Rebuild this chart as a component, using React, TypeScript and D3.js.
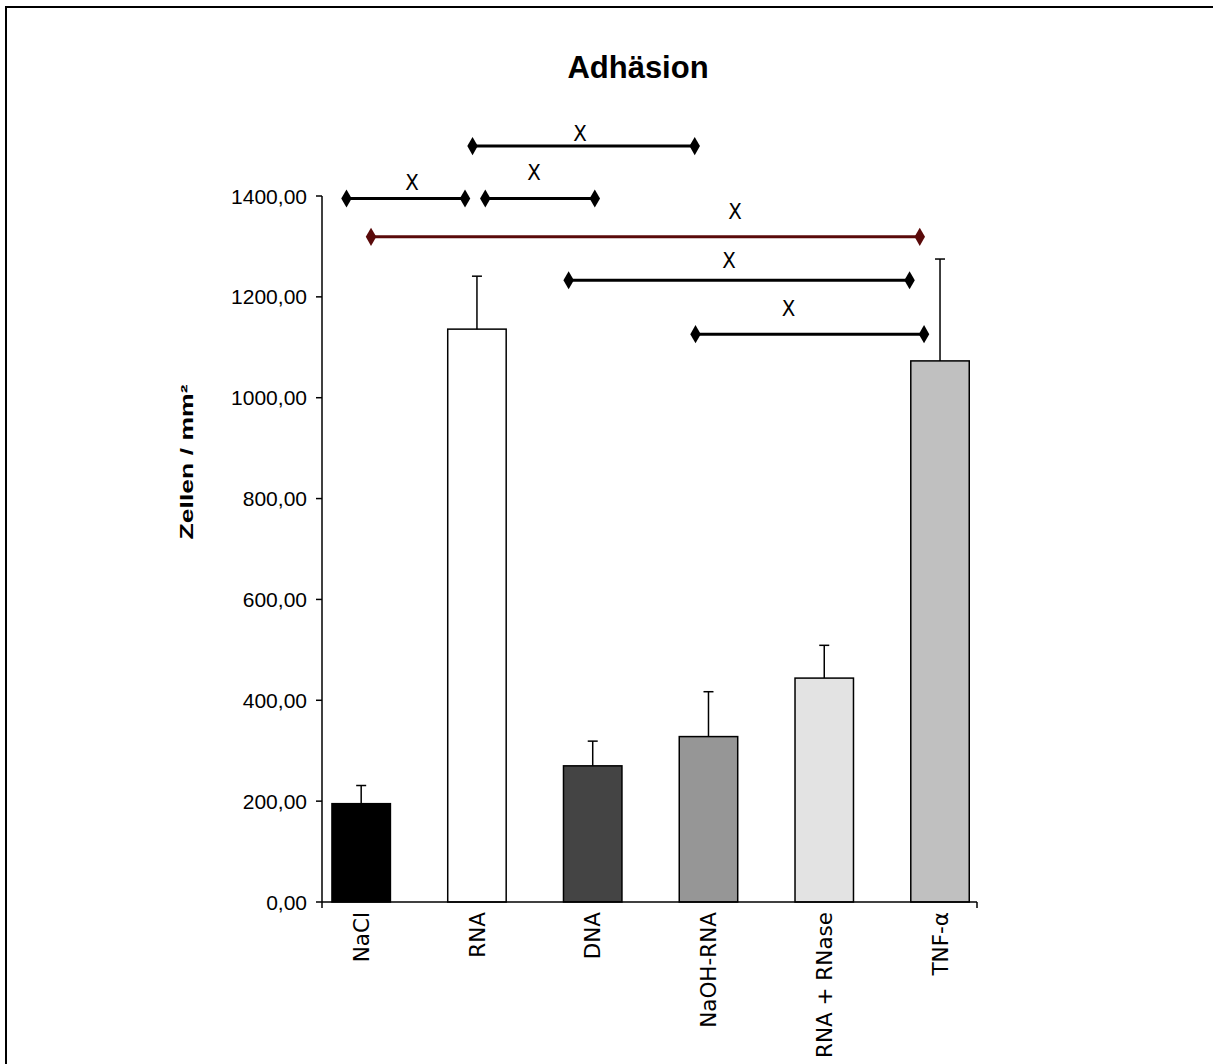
import * as d3 from "d3";
import { useEffect, useRef } from "react";

const categories = ["NaCl", "RNA", "DNA", "NaOH-RNA", "RNA + RNase", "TNF-α"];
const means = [195, 1136, 270, 328, 444, 1073];
const errors = [36, 105, 49, 89, 65, 202];
const barColors = ["#000000", "#ffffff", "#444444", "#969696", "#e3e3e3", "#c0c0c0"];
const yTicks = [0, 200, 400, 600, 800, 1000, 1200, 1400];

// significance lines: ends on category index scale, value for y, label pos
const bracketFrom = [0.962, -0.127, 1.072, 0.085, 1.792, 2.888];
const bracketTo = [2.881, 0.897, 2.018, 4.825, 4.737, 4.862];
const bracketValue = [1499, 1395, 1395, 1319, 1233, 1126];
const labelIndex = [1.89, 0.439, 1.493, 3.229, 3.177, 3.692];
const labelValue = [1524, 1428, 1448, 1371, 1273, 1178];
const bracketColors = ["#000", "#000", "#000", "#5a0a0a", "#000", "#000"];

const App = () => {
  const svgRef = useRef<SVGSVGElement>(null);

  useEffect(() => {
    const svg = d3.select(svgRef.current);
    svg.selectAll("*").remove();

    const axisLeft = 322;
    const axisRight = 977;

    const x = d3
      .scaleBand()
      .domain(categories)
      .range([303.3, 997.9])
      .paddingInner(0.495)
      .paddingOuter(0.2475);
    const bw = x.bandwidth();
    const cx = (c: string) => (x(c) as number) + bw / 2;

    const xi = d3
      .scaleLinear()
      .domain([0, categories.length - 1])
      .range([cx(categories[0]), cx(categories[categories.length - 1])]);

    const y = d3.scaleLinear().domain([0, 1400]).range([902, 196]);

    const fmt = d3
      .formatLocale({ decimal: ",", thousands: "", grouping: [3], currency: ["", ""] })
      .format(".2f");

    // outer frame
    svg
      .append("rect")
      .attr("x", 6)
      .attr("y", 7)
      .attr("width", 1240)
      .attr("height", 1100)
      .attr("fill", "none")
      .attr("stroke", "#000")
      .attr("stroke-width", 2);

    svg
      .append("text")
      .attr("x", 638)
      .attr("y", 78)
      .attr("text-anchor", "middle")
      .attr("font-family", "'Liberation Sans', Arial, sans-serif")
      .attr("font-weight", "bold")
      .attr("font-size", 31)
      .text("Adhäsion");

    // y axis
    svg
      .append("line")
      .attr("x1", axisLeft)
      .attr("x2", axisLeft)
      .attr("y1", y(1400))
      .attr("y2", y(0))
      .attr("stroke", "#000")
      .attr("stroke-width", 1.5);

    const yt = svg.append("g").selectAll("g").data(yTicks).enter().append("g");
    yt.append("line")
      .attr("x1", axisLeft - 6)
      .attr("x2", axisLeft)
      .attr("y1", (d) => y(d))
      .attr("y2", (d) => y(d))
      .attr("stroke", "#000")
      .attr("stroke-width", 1.5);
    yt.append("text")
      .attr("x", axisLeft - 15)
      .attr("y", (d) => y(d))
      .attr("dy", "0.36em")
      .attr("text-anchor", "end")
      .attr("font-family", "'Liberation Sans', Arial, sans-serif")
      .attr("font-size", 21)
      .text((d) => fmt(d));

    svg
      .append("text")
      .attr("transform", "translate(193,462) rotate(-90)")
      .attr("text-anchor", "middle")
      .attr("font-family", "'Liberation Sans', Arial, sans-serif")
      .attr("font-weight", "bold")
      .attr("font-size", 18)
      .attr("textLength", 155)
      .attr("lengthAdjust", "spacingAndGlyphs")
      .text("Zellen / mm²");

    // bars
    svg
      .selectAll(".bar")
      .data(categories)
      .enter()
      .append("rect")
      .attr("class", "bar")
      .attr("x", (d) => x(d) as number)
      .attr("width", bw)
      .attr("y", (d, i) => y(means[i]))
      .attr("height", (d, i) => y(0) - y(means[i]))
      .attr("fill", (d, i) => barColors[i])
      .attr("stroke", "#000")
      .attr("stroke-width", 1.5);

    // error bars
    const eb = svg.append("g").selectAll("g").data(categories).enter().append("g");
    eb.append("line")
      .attr("x1", (d) => cx(d))
      .attr("x2", (d) => cx(d))
      .attr("y1", (d, i) => y(means[i]))
      .attr("y2", (d, i) => y(means[i] + errors[i]))
      .attr("stroke", "#000")
      .attr("stroke-width", 1.5);
    eb.append("line")
      .attr("x1", (d) => cx(d) - 5)
      .attr("x2", (d) => cx(d) + 5)
      .attr("y1", (d, i) => y(means[i] + errors[i]))
      .attr("y2", (d, i) => y(means[i] + errors[i]))
      .attr("stroke", "#000")
      .attr("stroke-width", 1.5);

    // x axis
    svg
      .append("line")
      .attr("x1", axisLeft)
      .attr("x2", axisRight)
      .attr("y1", y(0))
      .attr("y2", y(0))
      .attr("stroke", "#000")
      .attr("stroke-width", 1.5);
    [axisLeft, axisRight].forEach((px) => {
      svg
        .append("line")
        .attr("x1", px)
        .attr("x2", px)
        .attr("y1", y(0))
        .attr("y2", y(0) + 6)
        .attr("stroke", "#000")
        .attr("stroke-width", 1.5);
    });

    svg
      .append("g")
      .selectAll("text")
      .data(categories)
      .enter()
      .append("text")
      .attr("transform", (d) => `translate(${cx(d)},${y(0) + 10}) rotate(-90)`)
      .attr("dy", "0.36em")
      .attr("text-anchor", "end")
      .attr("font-family", "'DejaVu Sans', sans-serif")
      .attr("font-size", 21.5)
      .text((d) => d);

    // significance lines
    const diamond = d3.symbol().type(d3.symbolDiamond).size(95);
    bracketFrom.forEach((f, i) => {
      const g = svg.append("g");
      const yy = y(bracketValue[i]);
      g.append("line")
        .attr("x1", xi(f))
        .attr("x2", xi(bracketTo[i]))
        .attr("y1", yy)
        .attr("y2", yy)
        .attr("stroke", bracketColors[i])
        .attr("stroke-width", 3);
      [f, bracketTo[i]].forEach((v) => {
        g.append("path")
          .attr("d", diamond() as string)
          .attr("transform", `translate(${xi(v)},${yy})`)
          .attr("fill", bracketColors[i]);
      });
      g.append("text")
        .attr("x", xi(labelIndex[i]))
        .attr("y", y(labelValue[i]))
        .attr("dy", "0.36em")
        .attr("text-anchor", "middle")
        .attr("font-family", "'DejaVu Sans Condensed', 'DejaVu Sans', sans-serif")
        .attr("font-size", 22)
        .text("X");
    });
  }, []);

  return (
    <svg
      ref={svgRef}
      width={1213}
      height={1064}
      style={{ position: "absolute", left: 0, top: 0, background: "#fff" }}
    ></svg>
  );
};

export default App;
